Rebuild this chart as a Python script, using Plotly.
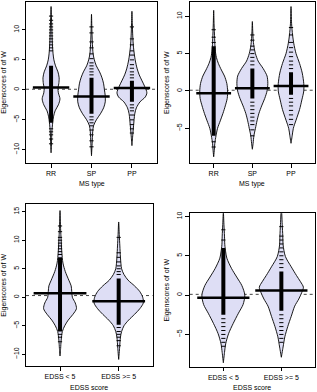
import plotly.graph_objects as go

# ---------------- data ----------------
ms_groups = ["RR", "SP", "PP"]
edss_groups = ["EDSS < 5", "EDSS >= 5"]

# Panel 1 (top-left): MS type, first eigenscore
p1_rr_y = [13.9, 12, 10, 8, 6, 5, 4, 3, 2, 1, 0.3, -0.5, -1.5, -2.5, -3.5, -4.5, -5.5, -7, -9, -10.5]
p1_rr_w = [0, 0.01, 0.02, 0.03, 0.05, 0.07, 0.11, 0.17, 0.2, 0.19, 0.17, 0.18, 0.22, 0.18, 0.1, 0.06, 0.04, 0.02, 0.01, 0]
p1_sp_y = [12.6, 10, 8, 6, 5, 4, 3, 2, 1, 0, -1, -2, -3, -4, -5, -6, -7, -9, -11]
p1_sp_w = [0, 0.01, 0.02, 0.04, 0.07, 0.12, 0.2, 0.26, 0.3, 0.32, 0.34, 0.34, 0.3, 0.22, 0.12, 0.05, 0.03, 0.015, 0]
p1_pp_y = [13.1, 11, 9, 7, 5, 3.5, 2.5, 1.5, 0.5, -0.5, -1.2, -2, -3, -4, -6, -8, -9.3]
p1_pp_w = [0, 0.01, 0.02, 0.04, 0.08, 0.13, 0.18, 0.25, 0.32, 0.37, 0.33, 0.2, 0.11, 0.07, 0.04, 0.015, 0]
p1_means = [0.4, -1.1, 0.3]
p1_overall = 0.1
p1_core_lo = [-5.5, -4.0, -2.0]
p1_core_hi = [4.0, 2.0, 1.5]
p1_rr_obs = [6.5, 7, 7.5, 8, 8.5, 9, 9.5, 10, 10.5, 11, 11.6, 12.3, -6.5, -7, -7.5, -8.2, -9]
p1_sp_obs = [2.5, 3, 3.5, 4, 4.5, 5.2, 6, 7, 8, 9.5, 10.5, -4.5, -5, -5.5, -6, -6.7, -7.5, -8.5, -9.5]
p1_pp_obs = [2, 2.5, 3, 3.6, 4.2, 5, 5.8, 6.5, 7.5, 8.5, 10.5, -2.5, -3, -3.5, -4.2, -5, -5.8, -6.5, -7.2]

# Panel 2 (top-right): MS type, second eigenscore
p2_rr_y = [10.8, 9, 7, 5.5, 4.5, 3.7, 2.8, 2, 1, 0, -1, -2, -3, -4, -5, -6, -7, -8, -8.8]
p2_rr_w = [0, 0.01, 0.025, 0.04, 0.07, 0.12, 0.2, 0.28, 0.34, 0.36, 0.35, 0.3, 0.24, 0.17, 0.1, 0.06, 0.03, 0.015, 0]
p2_sp_y = [9.3, 8, 7, 6, 5, 4, 3, 2, 1, 0, -1, -2, -3, -4, -5, -6, -7, -7.8]
p2_sp_w = [0, 0.01, 0.02, 0.04, 0.08, 0.15, 0.28, 0.38, 0.4, 0.38, 0.32, 0.24, 0.17, 0.12, 0.08, 0.04, 0.02, 0]
p2_pp_y = [11.3, 9, 7.5, 6.4, 5, 3.7, 2.4, 1, 0, -1.2, -2.5, -3.9, -5, -6, -7]
p2_pp_w = [0, 0.015, 0.04, 0.07, 0.13, 0.22, 0.29, 0.33, 0.33, 0.28, 0.22, 0.13, 0.06, 0.03, 0]
p2_means = [-0.3, 0.36, 0.67]
p2_overall = 0.1
p2_core_lo = [-6.0, -1.0, -0.5]
p2_core_hi = [6.0, 3.0, 2.5]
p2_rr_obs = [6.5, 7.2, 8.2, -6.8, -7.5]
p2_sp_obs = [3.5, 4, 4.5, 5, 5.5, 6, 6.8, 7.5, -1.5, -2, -2.5, -3, -3.5, -4, -4.5, -5.2, -6]
p2_pp_obs = [3, 3.5, 4, 4.6, 5.2, 5.8, 6.5, 7.5, 8.5, -1, -1.5, -2, -2.6, -3.2, -3.8, -4.5]

# Panel 3 (bottom-left): EDSS score, first eigenscore
p3_lo_y = [15.2, 12, 10, 8, 6, 4.5, 3, 2, 1, 0, -1, -2, -3, -4, -5, -6, -7.5, -9, -10.3]
p3_lo_w = [0, 0.01, 0.02, 0.03, 0.05, 0.09, 0.15, 0.19, 0.2, 0.21, 0.26, 0.28, 0.22, 0.14, 0.08, 0.04, 0.02, 0.01, 0]
p3_hi_y = [13.2, 11, 9, 7, 5, 4, 3, 2, 1, 0, -1, -2, -3, -4, -5, -6, -7, -9, -10.9]
p3_hi_w = [0, 0.01, 0.02, 0.03, 0.05, 0.09, 0.16, 0.27, 0.36, 0.41, 0.42, 0.36, 0.27, 0.17, 0.09, 0.05, 0.03, 0.015, 0]
p3_means = [0.7, -0.7]
p3_overall = 0.3
p3_core_lo = [-6.0, -4.8]
p3_core_hi = [7.0, 3.3]
p3_lo_obs = [7.5, 8, 8.5, 9, 9.5, 10, 10.5, 11.5, 12.5, -6.5, -7, -7.8]
p3_hi_obs = [4, 4.5, 5, 5.5, 6.2, 7, 7.8, 10.5, -5.3, -6, -6.5, -7, -7.6, -8.5]

# Panel 4 (bottom-right): EDSS score, second eigenscore
p4_lo_y = [10.6, 9, 7.5, 6.4, 5.5, 4.7, 3.4, 2.3, 1.2, 0, -1.2, -2.3, -3.6, -4.9, -6.2, -7.3, -8.6]
p4_lo_w = [0, 0.01, 0.02, 0.025, 0.04, 0.06, 0.14, 0.23, 0.32, 0.37, 0.34, 0.26, 0.17, 0.09, 0.04, 0.02, 0]
p4_hi_y = [11.2, 9, 7.5, 6.4, 4.9, 3.6, 2.5, 1.7, 1.0, 0.3, -0.5, -1.4, -2.7, -4, -5.3, -6.6, -7.9]
p4_hi_w = [0, 0.015, 0.025, 0.03, 0.07, 0.17, 0.26, 0.33, 0.38, 0.35, 0.3, 0.23, 0.17, 0.11, 0.06, 0.03, 0]
p4_means = [-0.34, 0.6]
p4_overall = 0.1
p4_core_lo = [-2.5, -2.0]
p4_core_hi = [6.0, 3.0]
p4_lo_obs = [7, 8.3, -3, -3.5, -4, -4.5, -5, -5.5, -6, -6.5]
p4_hi_obs = [3.5, 4, 4.5, 5, 5.5, 6, 6.5, 7, 7.5, 8.7, -2.5, -3, -3.5, -4, -4.5, -5, -5.5, -6]

y_title = "Eigenscores of of W"

# ---------------- styling ----------------
FONT = "Liberation Sans, Arial, Helvetica, sans-serif"
FILL = "#DEDEF5"
MEAN_HALF = 0.45

panels = [
    dict(ax="", groups=ms_groups, xlabel="MS type",
         beans=[(p1_rr_y, p1_rr_w, p1_rr_obs), (p1_sp_y, p1_sp_w, p1_sp_obs), (p1_pp_y, p1_pp_w, p1_pp_obs)],
         means=p1_means, overall=p1_overall, core_lo=p1_core_lo, core_hi=p1_core_hi,
         xdom=[26/317, 157/317], ydom=[1-163/392, 1-1.7/392], yrange=[-12.2, 14.7],
         xrange=[0.38, 3.62], ytick=[-10, -5, 0, 5, 10], ytx=4.5/317, xty=1-184/392),
    dict(ax="2", groups=ms_groups, xlabel="MS type",
         beans=[(p2_rr_y, p2_rr_w, p2_rr_obs), (p2_sp_y, p2_sp_w, p2_sp_obs), (p2_pp_y, p2_pp_w, p2_pp_obs)],
         means=p2_means, overall=p2_overall, core_lo=p2_core_lo, core_hi=p2_core_hi,
         xdom=[189.7/317, 315/317], ydom=[1-163.3/392, 1-1.7/392], yrange=[-9.68, 11.95],
         xrange=[0.38, 3.62], ytick=[-5, 0, 5, 10], ytx=166.5/317, xty=1-184/392),
    dict(ax="3", groups=edss_groups, xlabel="EDSS score",
         beans=[(p3_lo_y, p3_lo_w, p3_lo_obs), (p3_hi_y, p3_hi_w, p3_hi_obs)],
         means=p3_means, overall=p3_overall, core_lo=p3_core_lo, core_hi=p3_core_hi,
         xdom=[26/317, 152.7/317], ydom=[1-366/392, 1-204.3/392], yrange=[-12.05, 16.3],
         xrange=[0.42, 2.58], ytick=[-10, -5, 0, 5, 10, 15], ytx=4.5/317, xty=1-387/392),
    dict(ax="4", groups=edss_groups, xlabel="EDSS score",
         beans=[(p4_lo_y, p4_lo_w, p4_lo_obs), (p4_hi_y, p4_hi_w, p4_hi_obs)],
         means=p4_means, overall=p4_overall, core_lo=p4_core_lo, core_hi=p4_core_hi,
         xdom=[189.7/317, 315/317], ydom=[1-366.7/392, 1-213.3/392], yrange=[-9.1, 10.4],
         xrange=[0.42, 2.58], ytick=[-5, 0, 5, 10], ytx=166.5/317, xty=1-387/392),
]

fig = go.Figure()
layout = dict(width=317, height=392, margin=dict(l=0, r=0, t=0, b=0),
              paper_bgcolor="white", plot_bgcolor="white", showlegend=False,
              font=dict(family=FONT, size=7, color="black"))
annotations = []

for p in panels:
    xa = "x" + p["ax"]
    ya = "y" + p["ax"]
    n = len(p["groups"])
    positions = list(range(1, n + 1))
    # overall mean dotted line
    fig.add_trace(go.Scatter(x=p["xrange"], y=[p["overall"], p["overall"]], mode="lines",
                             line=dict(color="#444444", width=1, dash="dot"),
                             xaxis=xa, yaxis=ya, hoverinfo="skip"))
    for i, (yy, ww, obs) in enumerate(p["beans"]):
        pos = positions[i]
        xs = [pos - w for w in ww] + [pos + w for w in ww[::-1]]
        ys = list(yy) + list(yy[::-1])
        fig.add_trace(go.Scatter(x=xs, y=ys, mode="lines", fill="toself", fillcolor=FILL,
                                 line=dict(color="black", width=0.9, shape="spline", smoothing=0.8),
                                 xaxis=xa, yaxis=ya, hoverinfo="skip"))
        # dense core of bean lines
        fig.add_trace(go.Scatter(x=[pos, pos], y=[p["core_lo"][i], p["core_hi"][i]], mode="lines",
                                 line=dict(color="black", width=4),
                                 xaxis=xa, yaxis=ya, hoverinfo="skip"))
        # individual bean lines
        fig.add_trace(go.Scatter(x=[pos] * len(obs), y=obs, mode="markers",
                                 marker=dict(symbol="line-ew", size=3, color="black",
                                             line=dict(color="black", width=1)),
                                 xaxis=xa, yaxis=ya, hoverinfo="skip"))
        # group mean line
        m = p["means"][i]
        fig.add_trace(go.Scatter(x=[pos - MEAN_HALF, pos + MEAN_HALF], y=[m, m], mode="lines",
                                 line=dict(color="black", width=2.5),
                                 xaxis=xa, yaxis=ya, hoverinfo="skip"))
    axis_common = dict(showline=True, mirror=True, linecolor="black", linewidth=1,
                       ticks="outside", ticklen=3.5, tickwidth=1, tickcolor="black",
                       showgrid=False, zeroline=False, automargin=False,
                       tickfont=dict(family=FONT, size=7, color="black"))
    layout["xaxis" + p["ax"]] = dict(domain=p["xdom"], range=p["xrange"], anchor=ya,
                                     tickmode="array", tickvals=positions, ticktext=p["groups"],
                                     **axis_common)
    layout["yaxis" + p["ax"]] = dict(domain=p["ydom"], range=p["yrange"], anchor=xa,
                                     tickmode="array", tickvals=p["ytick"],
                                     ticktext=[("\u2212" + str(-t)) if t < 0 else str(t) for t in p["ytick"]],
                                     tickangle=-90, **axis_common)
    annotations.append(dict(text=p["xlabel"], x=(p["xdom"][0] + p["xdom"][1]) / 2, y=p["xty"],
                            xref="paper", yref="paper", showarrow=False,
                            xanchor="center", yanchor="middle",
                            font=dict(family=FONT, size=7, color="black")))
    annotations.append(dict(text=y_title, x=p["ytx"], y=(p["ydom"][0] + p["ydom"][1]) / 2,
                            xref="paper", yref="paper", showarrow=False, textangle=-90,
                            xanchor="center", yanchor="middle",
                            font=dict(family=FONT, size=7, color="black")))

layout["annotations"] = annotations
fig.update_layout(**layout)
fig.write_html("out.html", config={"displayModeBar": False, "responsive": False},
               post_script="document.body.style.margin='0';document.body.style.padding='0';")
